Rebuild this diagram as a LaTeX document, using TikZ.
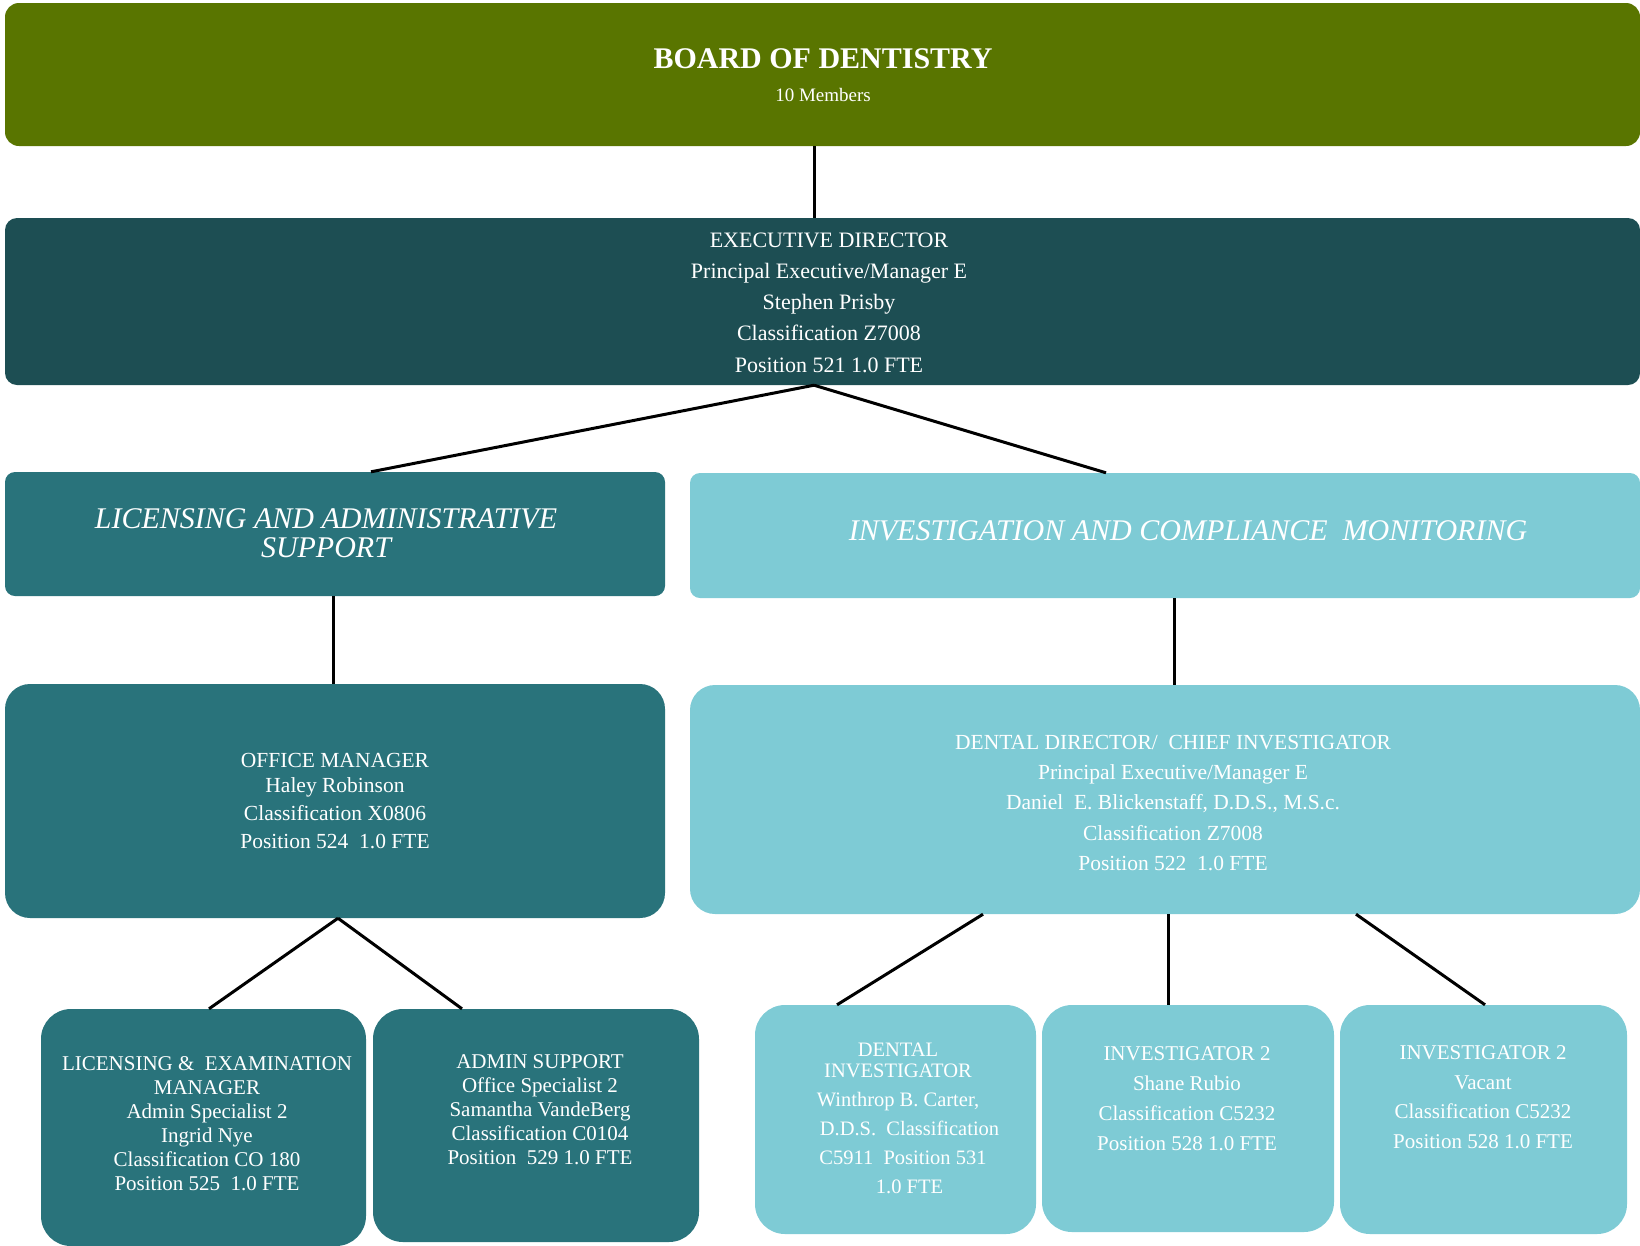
\documentclass[tikz,border=0pt]{standalone}
\usepackage{fontspec}
\setmainfont{Liberation Serif}
\usepackage{tikz}
\definecolor{Verde}{RGB}{89, 117, 0}
\definecolor{PetrolioScuro}{RGB}{29, 78, 83}
\definecolor{Petrolio}{RGB}{41, 115, 123}
\definecolor{Ciano}{RGB}{126, 203, 213}
\usetikzlibrary{positioning}
\tikzset{
    casella/.style = {rectangle, draw=none, minimum width=#1, inner sep=0pt},
    testo/.style = {align=center, text=white, inner sep=0pt},
    collegamento/.style = {line width=3pt, draw=black}
}

\begin{document}
\begin{tikzpicture}[
        x=1pt, y=-1pt,
        corpo/.style = {font=\fontsize{21.5}{28}\selectfont},
        piccolo/.style = {font=\fontsize{21}{24}\selectfont},
        sezione/.style = {font=\fontsize{30}{29}\selectfont\itshape}
    ]
    \useasboundingbox (0,0) rectangle (1640,1245);

    % caselle
    \node (board) at (822.5,74.5) [casella=1635pt, minimum height=143pt, fill=Verde, rounded corners=14pt] {};
    \node (exec) at (822.5,301.5) [casella=1635pt, minimum height=167pt, fill=PetrolioScuro, rounded corners=12pt] {};
    \node (lic) at (335,534) [casella=660pt, minimum height=124pt, fill=Petrolio, rounded corners=10pt] {};
    \node (inv) at (1165,535.5) [casella=950pt, minimum height=125pt, fill=Ciano, rounded corners=10pt] {};
    \node (office) at (335,801) [casella=660pt, minimum height=234pt, fill=Petrolio, rounded corners=25pt] {};
    \node (dentdir) at (1165,799.5) [casella=950pt, minimum height=229pt, fill=Ciano, rounded corners=25pt] {};
    \node (licexam) at (203.5,1127.5) [casella=325pt, minimum height=237pt, fill=Petrolio, rounded corners=30pt] {};
    \node (admin) at (536,1125.5) [casella=326pt, minimum height=233pt, fill=Petrolio, rounded corners=30pt] {};
    \node (dentinv) at (895.5,1119.5) [casella=281pt, minimum height=229pt, fill=Ciano, rounded corners=30pt] {};
    \node (invA) at (1188,1118.5) [casella=292pt, minimum height=227pt, fill=Ciano, rounded corners=30pt] {};
    \node (invB) at (1483.5,1119.5) [casella=287pt, minimum height=229pt, fill=Ciano, rounded corners=30pt] {};

    % testi
    \node (boardT) at (823,59) [testo, font=\fontsize{30}{36}\selectfont\bfseries] {BOARD OF DENTISTRY};
    \node (boardM) at (823,95) [testo, font=\fontsize{19}{22}\selectfont] {10 Members};
    \node (execT) at (829,302.5) [testo, font=\fontsize{22}{31.3}\selectfont] {EXECUTIVE DIRECTOR\\ Principal Executive/Manager E\\ Stephen Prisby\\ Classification Z7008\\ Position 521 1.0 FTE};
    \node (licT) at (326,533) [testo, sezione] {LICENSING AND ADMINISTRATIVE\\ SUPPORT};
    \node (invT) at (1188,531) [testo, sezione] {INVESTIGATION AND COMPLIANCE\ \ MONITORING};
    \node (officeT) at (335,801) [testo, corpo] {OFFICE MANAGER\\[-3pt] Haley Robinson\\ Classification X0806\\ Position 524\ \ 1.0 FTE};
    \node (dentdirT) at (1173,803) [testo, font=\fontsize{21.5}{30.3}\selectfont] {DENTAL DIRECTOR/\ \ CHIEF INVESTIGATOR\\ Principal Executive/Manager E\\ Daniel\ \ E. Blickenstaff, D.D.S., M.S.c.\\ Classification Z7008\\ Position 522\ \ 1.0 FTE};
    \node (licexamT) at (207,1124) [testo, piccolo] {LICENSING \&\ \ EXAMINATION\\ MANAGER\\ Admin Specialist 2\\ Ingrid Nye\\ Classification CO 180\\ Position 525\ \ 1.0 FTE};
    \node (adminT) at (540,1110) [testo, piccolo] {ADMIN SUPPORT\\ Office Specialist 2\\ Samantha VandeBerg\\ Classification C0104\\ Position\ \ 529 1.0 FTE};
    \node (dentinvT) at (898,1118) [testo, font=\fontsize{20.5}{21}\selectfont] {DENTAL\\ INVESTIGATOR\\[8pt] Winthrop B. Carter,\\[8pt] \hspace*{23pt}D.D.S.\ \ Classification\\[8pt] \hspace*{10pt}C5911\ \ Position 531\\[8pt] \hspace*{23pt}1.0 FTE};
    \node (invAT) at (1187,1099) [testo, font=\fontsize{21}{30}\selectfont] {INVESTIGATOR 2\\ Shane Rubio\\ Classification C5232\\ Position 528 1.0 FTE};
    \node (invBT) at (1483,1097) [testo, font=\fontsize{21}{29.5}\selectfont] {INVESTIGATOR 2\\ Vacant\\ Classification C5232\\ Position 528 1.0 FTE};

    % collegamenti
    \draw[collegamento] ([xshift=-8.5pt]board.south) -- ([xshift=-8.5pt]exec.north);
    \draw[collegamento] ([xshift=-8.5pt]exec.south) -- ([xshift=36pt]lic.north);
    \draw[collegamento] ([xshift=-8.5pt]exec.south) -- ([xshift=-59pt]inv.north);
    \draw[collegamento] ([xshift=-2pt]lic.south) -- ([xshift=-2pt]office.north);
    \draw[collegamento] ([xshift=9pt]inv.south) -- ([xshift=9pt]dentdir.north);
    \draw[collegamento] ([xshift=3pt]office.south) -- ([xshift=5.5pt]licexam.north);
    \draw[collegamento] ([xshift=3pt]office.south) -- ([xshift=-74pt]admin.north);
    \draw[collegamento] ([xshift=-182pt]dentdir.south) -- ([xshift=-58.5pt]dentinv.north);
    \draw[collegamento] ([xshift=3pt]dentdir.south) -- ([xshift=-20pt]invA.north);
    \draw[collegamento] ([xshift=191pt]dentdir.south) -- ([xshift=1.5pt]invB.north);

\end{tikzpicture}
\end{document}
